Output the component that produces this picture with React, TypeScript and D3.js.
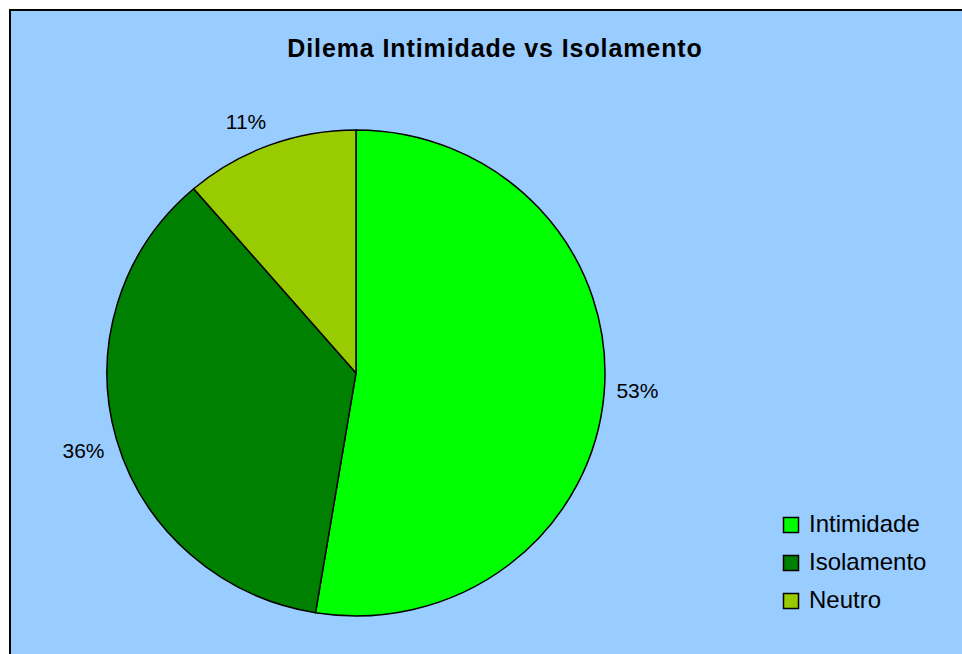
import React from "react";
import * as d3 from "d3";

const title = "Dilema Intimidade vs Isolamento";
const categories = ["Intimidade", "Isolamento", "Neutro"];
const values = [52.6, 36.1, 11.3];
const colors = ["#00FF00", "#008000", "#99CC00"];

const W = 962;
const H = 654;

export default function App() {
  const cx = 356;
  const cy = 373;
  const rx = 249;
  const ry = 243;
  const total = d3.sum(values);
  const pie = d3.pie<number>().sort(null).value((d) => d);
  const arcs = pie(values);
  const arc = d3.arc<d3.PieArcDatum<number>>().innerRadius(0).outerRadius(rx);
  const fmt = d3.format(".0%");
  const labelFont = 21;

  return (
    <svg
      width={W}
      height={H}
      style={{ position: "absolute", left: 0, top: 0, display: "block" }}
    >
      <rect x={0} y={0} width={W} height={H} fill="#ffffff" />
      <rect x={10} y={10} width={1000} height={700} fill="#99CCFF" stroke="#000" strokeWidth={2} />
      <text
        x={495}
        y={57}
        textAnchor="middle"
        fontFamily="Liberation Sans, Arial, sans-serif"
        fontWeight="bold"
        fontSize={25}
        letterSpacing={0.9}
        fill="#000"
      >
        {title}
      </text>
      <g transform={`translate(${cx},${cy}) scale(1,${ry / rx})`}>
        {arcs.map((a, i) => (
          <path
            key={i}
            d={arc(a) as string}
            fill={colors[i]}
            stroke="#000"
            strokeWidth={1.5}
            strokeLinejoin="round"
          />
        ))}
      </g>
      {arcs.map((a, i) => {
        const mid = (a.startAngle + a.endAngle) / 2 - 0.017;
        const s = Math.sin(mid);
        const lx = cx + (rx + 33) * s + (s < 0 ? -8 * Math.abs(Math.cos(mid)) : 0);
        const ly = cy - (ry + 27) * Math.cos(mid);
        return (
          <text
            key={i}
            x={lx}
            y={ly + labelFont * 0.36}
            textAnchor="middle"
            fontFamily="Liberation Sans, Arial, sans-serif"
            fontSize={labelFont}
            fill="#000"
          >
            {fmt(values[i] / total)}
          </text>
        );
      })}
      <g>
        {categories.map((cat, i) => {
          const y = 532 + i * 38;
          return (
            <g key={cat}>
              <rect x={783.5} y={y - 14.5} width={15} height={15} fill={colors[i]} stroke="#000" strokeWidth={1.5} />
              <text
                x={809}
                y={y}
                fontFamily="Liberation Sans, Arial, sans-serif"
                fontSize={24}
                fill="#000"
              >
                {cat}
              </text>
            </g>
          );
        })}
      </g>
    </svg>
  );
}
